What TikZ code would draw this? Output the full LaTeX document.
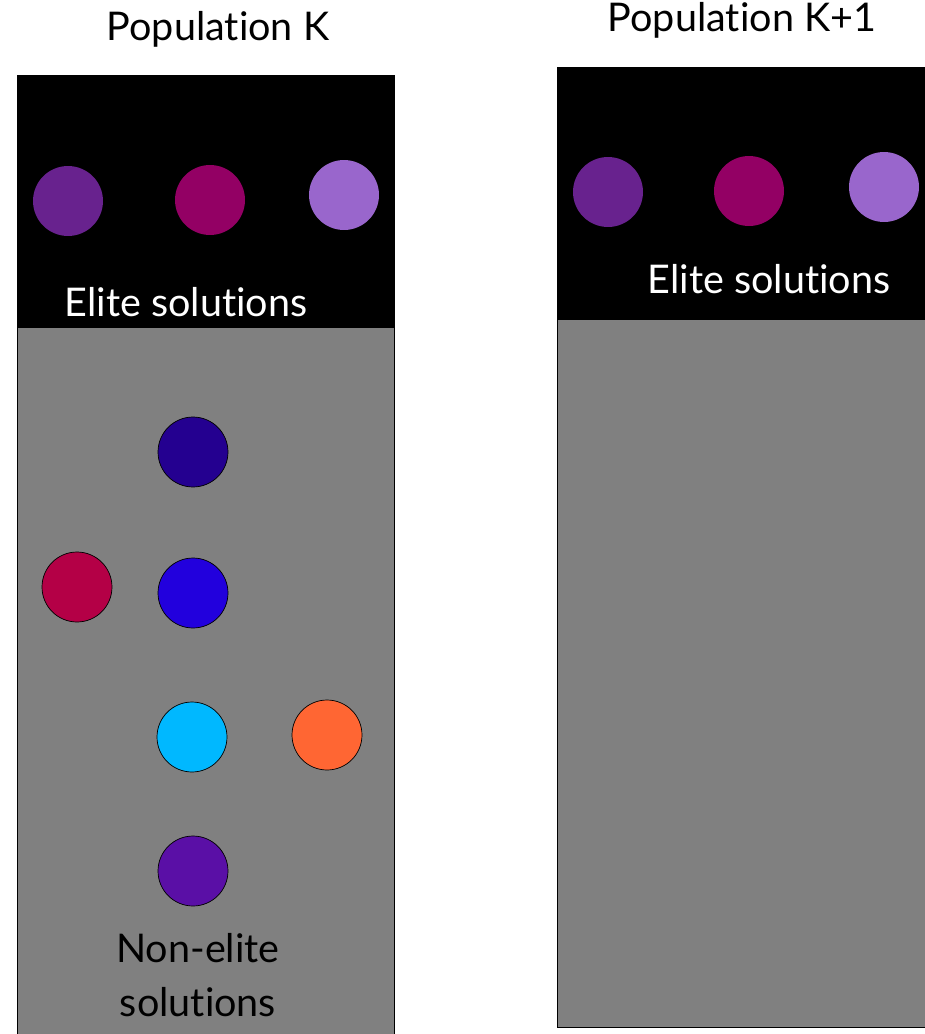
\documentclass[tikz,border=0pt]{standalone}
\usepackage{fontspec}
\setmainfont[Ligatures=NoCommon]{Lato}
\usepackage{tikz}
\definecolor{grigio}{HTML}{808080}
\definecolor{viola}{HTML}{68228E}
\definecolor{porpora}{HTML}{930064}
\definecolor{lilla}{HTML}{9966CC}
\definecolor{indaco}{HTML}{240090}
\definecolor{cremisi}{HTML}{B40046}
\definecolor{blu}{HTML}{2200DD}
\definecolor{ciano}{HTML}{00B8FF}
\definecolor{arancio}{HTML}{FF6633}
\definecolor{violascuro}{HTML}{5A0FA6}

\begin{document}
\begin{tikzpicture}[x=0.02cm, y=-0.02cm,
    testo/.style={font=\fontsize{22.5}{31}\selectfont, inner sep=0pt},
    elite/.style={circle, minimum size=1.4cm, inner sep=0pt, fill=#1},
    nonelite/.style={circle, minimum size=1.4cm, inner sep=0pt, draw=black, thin, fill=#1}]
        \useasboundingbox (0,0) rectangle (925,1034);
        \clip (0,0) rectangle (925,1034);
        % Popolazione K
        \draw[fill=grigio] (17,75) rectangle (394,1040);
        \fill[black] (17,75) rectangle (394,328);
        \node[testo] (popK) at (218,29) {Population K};
        \node[elite=viola] (eK1) at (68,201) {};
        \node[elite=porpora] (eK2) at (210,200) {};
        \node[elite=lilla] (eK3) at (344,195) {};
        \node[testo, white] (eliteK) at (186,302) {Elite solutions};
        % Soluzioni non elite
        \node[nonelite=indaco] (nK1) at (193,452) {};
        \node[nonelite=cremisi] (nK2) at (77,587) {};
        \node[nonelite=blu] (nK3) at (193,593) {};
        \node[nonelite=ciano] (nK4) at (192,737) {};
        \node[nonelite=arancio] (nK5) at (327,735) {};
        \node[nonelite=violascuro] (nK6) at (193,871) {};
        \node[testo, align=center] (nonelite) at (198,975) {Non-elite\\solutions};
        % Popolazione K+1
        \draw[fill=grigio] (557,67) rectangle (930,1027);
        \fill[black] (557,67) rectangle (930,320);
        \node[testo] (popK1) at (742,20) {Population K+1};
        \node[elite=viola] (eL1) at (608,192) {};
        \node[elite=porpora] (eL2) at (749,191) {};
        \node[elite=lilla] (eL3) at (884,187) {};
        \node[testo, white] (eliteK1) at (769,279) {Elite solutions};
    \end{tikzpicture}
\end{document}
